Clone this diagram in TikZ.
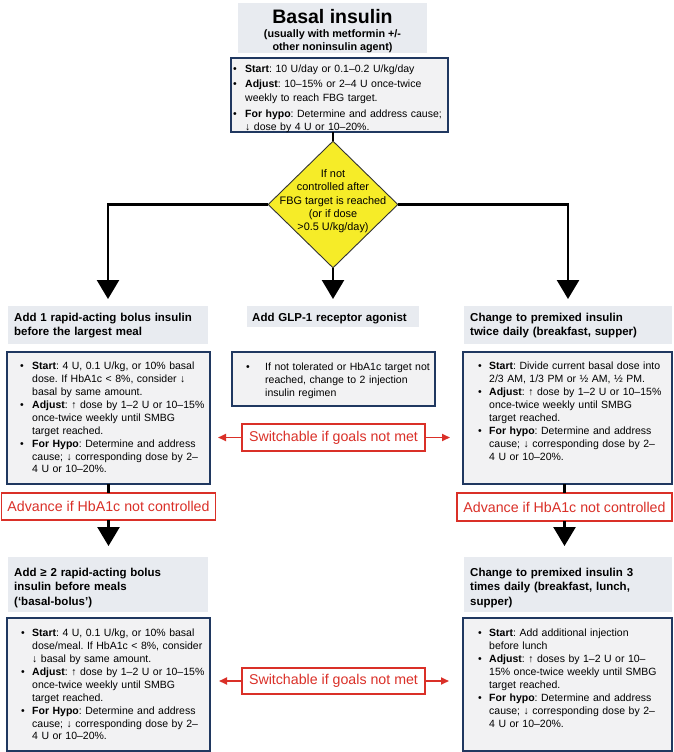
\documentclass[tikz,border=0pt]{standalone}
\usepackage{fontspec}
\setmainfont{Liberation Sans}
\usetikzlibrary{shapes.geometric,arrows.meta,calc}
\definecolor{headfill}{RGB}{232,235,240}
\definecolor{boxfill}{RGB}{242,242,243}
\definecolor{navy}{RGB}{32,56,96}
\definecolor{alertred}{RGB}{218,48,40}
\definecolor{dyellow}{RGB}{246,236,40}
\newlength\bpre \newlength\bind \newlength\bsep
\newcommand\bstart{\hangindent=\bind\hangafter=1\noindent\makebox[\bind][l]{\hspace*{\bpre}\textbullet}\rule{0pt}{8pt}\ignorespaces}
\newcommand\bitem{\par\vspace{\bsep}\bstart}
\tikzset{
  headbox/.style={fill=headfill, draw=none, anchor=north west, inner sep=0pt, outer sep=0pt},
  contbox/.style={fill=boxfill, draw=navy, line width=1.6pt, anchor=north west, inner sep=0pt, outer sep=0pt},
  redbox/.style={draw=alertred, line width=1.6pt, fill=white, text=alertred, font=\fontsize{14.2}{16}\selectfont, inner sep=0pt, outer sep=0pt},
  btext/.style={anchor=north west, inner sep=0pt, text width=260pt, align=left, font=\fontsize{10.5}{12.9}\selectfont},
  htext/.style={anchor=north west, inner sep=0pt, text width=260pt, align=left, font=\fontsize{11.5}{14.5}\selectfont\bfseries},
  flow/.style={line width=2.6pt, draw=black},
  bigarrow/.style={flow, -{Triangle[width=22pt,length=19pt]}},
  swarrow/.style={draw=alertred, line width=1.8pt, -{Triangle[width=7pt,length=8pt]}}
}
\begin{document}
\frenchspacing
\begin{tikzpicture}[x=1pt,y=-1pt]
\useasboundingbox[fill=white] (0,0) rectangle (673,752);

% title
\node[headbox, minimum width=189pt, minimum height=50pt] (TB) at (238,3) {};
\node[anchor=base, inner sep=0pt, font=\fontsize{19.5}{22}\selectfont\bfseries] (TT) at (332.5,24) {Basal insulin};
\node[anchor=north, inner sep=0pt, align=center, font=\fontsize{10.8}{13}\selectfont\bfseries] (TS) at (332.5,28) {\rule{0pt}{9pt}(usually with metformin +/-\\other noninsulin agent)};

% top box
\node[contbox, minimum width=217pt, minimum height=74pt] (T) at (231,58) {};
\node[btext, font=\fontsize{10.5}{13.3}\selectfont, execute at begin node={\setlength\bpre{2pt}\setlength\bind{14pt}\setlength\bsep{2.5pt}}] (Tt) at (231,64) {%
\bstart\textbf{Start}: 10 U/day or 0.1–0.2 U/kg/day
\bitem\textbf{Adjust}: 10–15\% or 2–4 U once-twice\newline weekly to reach FBG target.
\bitem\textbf{For hypo}: Determine and address cause;\newline ↓ dose by 4 U or 10–20\%.\par};

% diamond
\node[diamond, draw=black!80, line width=0.9pt, fill=dyellow, minimum width=130pt, minimum height=127pt, inner sep=0pt] (D) at (333,204.5) {};
\node[anchor=north, inner sep=0pt, align=center, font=\fontsize{10.9}{13.25}\selectfont] (Dt) at (333,169) {\rule{0pt}{8.5pt}If not\\controlled after\\FBG target is reached\\(or if dose\\>0.5 U/kg/day)};

% headings row 1
\node[headbox, minimum width=200pt, minimum height=38pt] (L1h) at (8,306) {};
\node[htext] at (14,312) {\rule{0pt}{9pt}Add 1 rapid-acting bolus insulin\newline before the largest meal\par};
\node[headbox, minimum width=172pt, minimum height=21pt] (Ch) at (247,306) {};
\node[htext] at (252,312) {\rule{0pt}{9pt}Add GLP-1 receptor agonist\par};
\node[headbox, minimum width=208pt, minimum height=38pt] (R1h) at (464,306) {};
\node[htext] at (470,312) {\rule{0pt}{9pt}Change to premixed insulin\newline twice daily (breakfast, supper)\par};

% content row 1
\node[contbox, minimum width=203pt, minimum height=132pt] (L1) at (7,352) {};
\node[btext, execute at begin node={\setlength\bpre{13pt}\setlength\bind{25pt}\setlength\bsep{0pt}}] at (7,361.5) {%
\bstart\textbf{Start}: 4 U, 0.1 U/kg, or 10\% basal\newline dose. If HbA1c < 8\%, consider ↓\newline basal by same amount.
\bitem\textbf{Adjust}: ↑ dose by 1–2 U or 10–15\%\newline once-twice weekly until SMBG\newline target reached.
\bitem\textbf{For Hypo}: Determine and address\newline cause; ↓ corresponding dose by 2–\newline 4 U or 10–20\%.\par};

\node[contbox, minimum width=203pt, minimum height=54pt] (C) at (232,352) {};
\node[btext, execute at begin node={\setlength\bpre{14pt}\setlength\bind{33pt}\setlength\bsep{0pt}}] at (232,362.5) {%
\bstart If not tolerated or HbA1c target not\newline reached, change to 2 injection\newline insulin regimen\par};

\node[contbox, minimum width=209pt, minimum height=132pt] (R1) at (463,352) {};
\node[btext, execute at begin node={\setlength\bpre{15pt}\setlength\bind{26pt}\setlength\bsep{0pt}}] at (463,361.5) {%
\bstart\textbf{Start}: Divide current basal dose into\newline 2/3 AM, 1/3 PM or ½ AM, ½ PM.
\bitem\textbf{Adjust}: ↑ dose by 1–2 U or 10–15\%\newline once-twice weekly until SMBG\newline target reached.
\bitem\textbf{For hypo}: Determine and address\newline cause; ↓ corresponding dose by 2–\newline 4 U or 10–20\%.\par};

% red boxes
\node[redbox, minimum width=214pt, minimum height=27pt] (A1) at (108.5,506.5) {Advance if HbA1c not controlled};
\node[redbox, minimum width=215pt, minimum height=28pt] (A2) at (564.5,507) {Advance if HbA1c not controlled};
\node[redbox, minimum width=183pt, minimum height=27pt] (S1) at (333.5,437.5) {Switchable if goals not met};
\node[redbox, minimum width=183pt, minimum height=26pt] (S2) at (333.5,681) {Switchable if goals not met};

% headings row 2
\node[headbox, minimum width=200pt, minimum height=55pt] (L2h) at (8,557) {};
\node[htext] at (14,567) {\rule{0pt}{9pt}Add ≥ 2 rapid-acting bolus\newline insulin before meals\newline (‘basal-bolus’)\par};
\node[headbox, minimum width=208pt, minimum height=55pt] (R2h) at (464,557) {};
\node[htext] at (470,567) {\rule{0pt}{9pt}Change to premixed insulin 3\newline times daily (breakfast, lunch,\newline supper)\par};

% content row 2
\node[contbox, minimum width=203pt, minimum height=133pt] (L2) at (7,618) {};
\node[btext, execute at begin node={\setlength\bpre{14pt}\setlength\bind{25pt}\setlength\bsep{0pt}}] at (7,628.5) {%
\bstart\textbf{Start}: 4 U, 0.1 U/kg, or 10\% basal\newline dose/meal. If HbA1c < 8\%, consider\newline ↓ basal by same amount.
\bitem\textbf{Adjust}: ↑ dose by 1–2 U or 10–15\%\newline once-twice weekly until SMBG\newline target reached.
\bitem\textbf{For Hypo}: Determine and address\newline cause; ↓ corresponding dose by 2–\newline 4 U or 10–20\%.\par};

\node[contbox, minimum width=209pt, minimum height=133pt] (R2) at (463,618) {};
\node[btext, execute at begin node={\setlength\bpre{15pt}\setlength\bind{26pt}\setlength\bsep{0pt}}] at (463,628.5) {%
\bstart\textbf{Start}: Add additional injection\newline before lunch
\bitem\textbf{Adjust}: ↑ doses by 1–2 U or 10–\newline 15\% once-twice weekly until SMBG\newline target reached.
\bitem\textbf{For hypo}: Determine and address\newline cause; ↓ corresponding dose by 2–\newline 4 U or 10–20\%.\par};

% connectors
\draw[flow] (D.north |- T.south) -- (D.north);
\draw[bigarrow, shorten >=7pt] (D.west) -| (L1h.north);
\draw[bigarrow, shorten >=7pt] (D.south) -- (D.south |- Ch.north);
\draw[bigarrow, shorten >=7pt] (D.east) -| (R1h.north);
\draw[flow] (L1.south) -- (L1.south |- A1.north);
\draw[bigarrow, shorten >=11pt] (A1.south) -- (A1.south |- L2h.north);
\draw[flow] (A2.north) -- (A2.north |- R1.south);
\draw[bigarrow, shorten >=11pt] (A2.south) -- (A2.south |- R2h.north);
\draw[swarrow, shorten >=8pt] (S1.west) -- (S1.west -| L1.east);
\draw[swarrow, shorten >=13pt] (S1.east) -- (S1.east -| R1.west);
\draw[swarrow, shorten >=9pt] (S2.west) -- (S2.west -| L2.east);
\draw[swarrow, shorten >=14pt] (S2.east) -- (S2.east -| R2.west);
\end{tikzpicture}
\end{document}
